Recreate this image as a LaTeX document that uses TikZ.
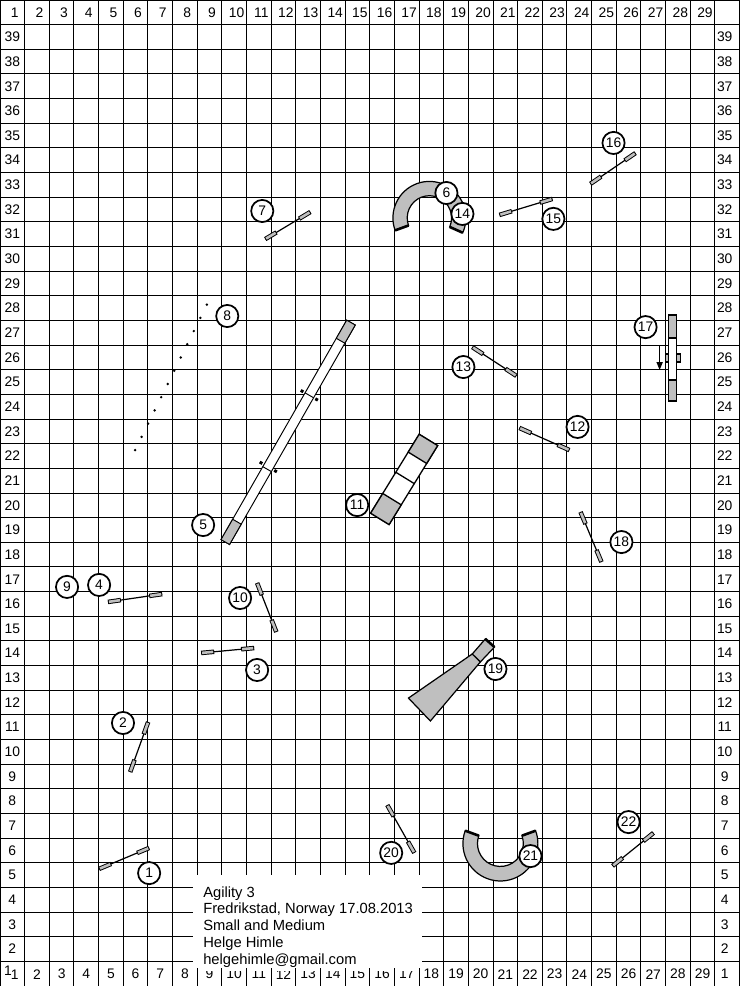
\documentclass[tikz,border=0pt]{standalone}
\usepackage{fontspec}
\setmainfont{Liberation Sans}
\usetikzlibrary{calc,arrows.meta}
\newcommand{\lbl}{\fontsize{16}{19}\selectfont}
\newcommand{\jump}[2]{%
  \draw[bar] #1 -- #2;
  \draw[line width=5.2pt] #1 -- ($#1!0.53cm!#2$);
  \draw[line width=3pt,black!25,shorten <=1.1pt,shorten >=1.1pt] #1 -- ($#1!0.53cm!#2$);
  \draw[line width=5.2pt] #2 -- ($#2!0.53cm!#1$);
  \draw[line width=3pt,black!25,shorten <=1.1pt,shorten >=1.1pt] #2 -- ($#2!0.53cm!#1$);
}

\begin{document}
\begin{tikzpicture}[every node/.style={font=\lbl},
   num/.style={circle,draw,line width=2pt,fill=white,minimum size=0.9cm,inner sep=0pt},
   bar/.style={line width=1.4pt},
   plank/.style={draw,line width=1.5pt},
   tube/.style={draw,line width=1.4pt,fill=black!25},
   mouth/.style={line width=3pt}]
   \useasboundingbox (0,0) rectangle (30,40);
   \draw[line width=1.1pt] (0,0) grid (30,40);
   \foreach \i in {1,...,29} \node (top\i) at (\i-0.4,39.5) {\i};
   \foreach \i in {2,...,29} \node (bot\i) at (\i-0.5,0.48) {\i};
   \foreach \j in {2,...,39} \node (left\j) at (0.5,\j-0.5) {\j};
   \foreach \j in {1,...,39} \node (right\j) at (29.4,\j-0.5) {\j};
   \node (left1) at (0.32,0.62) {1};
   \node (bot1) at (0.6,0.45) {1};
   \fill[white] (7.84,0.6) rectangle (17.13,4.5);
   \foreach \i in {8,...,17} \draw[line width=1.1pt] (\i,0) -- (\i,0.72);
   \node[anchor=north west,inner sep=0pt,align=left,font=\fontsize{17}{19.3}\selectfont] (info) at (8.24,4.04)
      {Agility 3\\Fredrikstad, Norway 17.08.2013\\Small and Medium\\Helge Himle\\helgehimle@gmail.com};

   \foreach \ax/\ay/\bx/\by in {4.02/4.75/6.05/5.60, 5.28/8.68/6.01/10.71, 8.16/13.51/10.31/13.71,
      4.38/15.58/6.58/15.90, 10.76/30.30/12.59/31.40, 10.43/16.35/11.21/14.36,
      21.07/22.64/23.10/21.74, 19.16/25.92/20.95/24.75, 20.26/31.28/22.41/31.93,
      23.95/32.54/25.78/33.79, 23.55/19.23/24.40/17.20, 15.71/7.34/16.81/5.40,
      24.85/4.87/26.51/6.21}
      \jump{(\ax,\ay)}{(\bx,\by)};

   \coordinate (w1) at (5.48,21.74);
   \coordinate (w2) at (8.39,27.64);
   \foreach \k in {0,...,11} \fill ($(w1)!\k/11!(w2)$) circle (0.055);

   \begin{scope}[shift={(9.14,18.01)},rotate=60.2]
      \draw[plank,line width=1.1pt,fill=white] (0,-0.2) rectangle (10.26,0.2);
      \draw[plank,line width=1.1pt,fill=black!25] (0,-0.2) rectangle (0.95,0.2);
      \draw[plank,line width=1.1pt,fill=black!25] (9.41,-0.2) rectangle (10.26,0.2);
      \draw[line width=1.1pt] (3.41,-0.2) -- (3.41,0.2);
      \draw[line width=1.1pt] (6.86,-0.2) -- (6.86,0.2);
      \fill (3.45,0.28) rectangle +(0.12,0.12);
      \fill (3.45,-0.28) rectangle +(0.12,-0.12);
      \fill (6.8,0.28) rectangle +(0.12,0.12);
      \fill (6.8,-0.28) rectangle +(0.12,-0.12);
   \end{scope}

   \begin{scope}[shift={(15.41,18.95)},rotate=58.4]
      \draw[plank,fill=white] (0,-0.44) rectangle (3.76,0.44);
      \draw[plank,fill=black!25] (0,-0.44) rectangle (0.94,0.44);
      \draw[plank,fill=black!25] (2.91,-0.44) rectangle (3.76,0.44);
      \draw[plank] (1.95,-0.44) -- (1.95,0.44);
   \end{scope}

   \draw[plank,fill=black!25] (27.0,25.31) rectangle (27.61,25.64);
   \draw[plank,fill=white] (27.12,23.73) rectangle (27.45,27.22);
   \draw[plank,fill=black!25] (27.12,26.29) rectangle (27.45,27.22);
   \draw[plank,fill=black!25] (27.12,23.73) rectangle (27.45,24.58);
   \draw[-{Triangle[width=7pt,length=9pt]},line width=1.3pt] (26.76,25.96) -- (26.76,24.99);

   \draw[tube] (19.16,13.47) -- (19.49,13.15) -- (17.46,10.75) -- (16.57,11.68) -- cycle;
   \draw[tube] (19.69,14.08) -- (20.06,13.75) -- (19.49,13.15) -- (19.16,13.47) -- cycle;
   \draw[mouth] (19.69,14.08) -- (20.06,13.75);

   \coordinate (t6) at (17.42,31.16);
   \draw[tube] ([shift={(200:1.48)}]t6) arc[start angle=200,end angle=-24,radius=1.48]
      -- ([shift={(-24:0.9)}]t6) arc[start angle=-24,end angle=200,radius=0.9] -- cycle;
   \draw[mouth] ([shift={(200:1.48)}]t6) -- ([shift={(200:0.9)}]t6);
   \draw[mouth] ([shift={(-24:1.48)}]t6) -- ([shift={(-24:0.9)}]t6);

   \coordinate (t21) at (20.30,5.78);
   \draw[tube] ([shift={(160:1.52)}]t21) arc[start angle=160,end angle=380,radius=1.52]
      -- ([shift={(20:0.93)}]t21) arc[start angle=380,end angle=160,radius=0.93] -- cycle;
   \draw[mouth] ([shift={(160:1.52)}]t21) -- ([shift={(160:0.93)}]t21);
   \draw[mouth] ([shift={(20:1.52)}]t21) -- ([shift={(20:0.93)}]t21);

   \foreach \k/\x/\y in {1/6.05/4.58, 2/4.99/10.67, 3/10.43/12.82, 4/4.02/16.27, 5/8.24/18.70,
      6/18.11/32.17, 7/10.64/31.44, 8/9.22/27.18, 9/2.72/16.19, 10/9.74/15.74, 11/14.49/19.51,
      12/23.43/22.68, 13/18.80/25.11, 14/18.76/31.32, 15/22.45/31.12, 16/24.89/34.20,
      17/26.19/26.73, 18/25.21/18.01, 19/20.10/12.86, 20/15.87/5.40, 21/21.52/5.27, 22/25.50/6.65}
      \node[num] (n\k) at (\x,\y) {\k};
\end{tikzpicture}
\end{document}
